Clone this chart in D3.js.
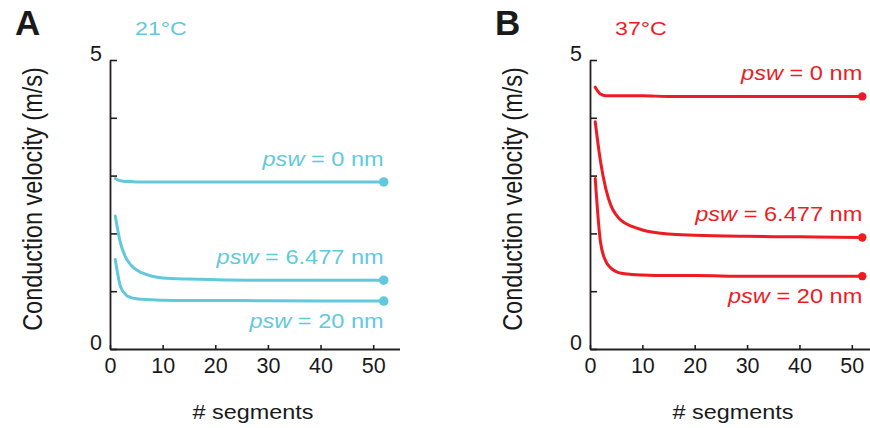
<!DOCTYPE html>
<html>
<head>
<meta charset="utf-8">
<script src="https://cdn.jsdelivr.net/npm/d3@7"></script>
<style>
  body { margin: 0; background: #fff; }
  svg { display: block; font-family: "Helvetica Neue", Helvetica, "Liberation Sans", Arial, sans-serif; }
</style>
</head>
<body>
<svg id="chart" width="870" height="428"></svg>
<script>
// segment counts where the velocity curves were read
const segments = [1, 2, 3, 4, 5, 6, 8, 10, 15, 20, 30, 40, 52]

// conduction velocity (m/s), 21 °C
const cold0 = [2.95, 2.91, 2.90, 2.90, 2.89, 2.89, 2.89, 2.89, 2.89, 2.89, 2.89, 2.89, 2.89]
const cold6 = [2.30, 1.83, 1.58, 1.45, 1.37, 1.32, 1.26, 1.23, 1.21, 1.20, 1.19, 1.19, 1.19]
const cold20 = [1.55, 1.08, 0.94, 0.89, 0.87, 0.86, 0.85, 0.845, 0.84, 0.84, 0.835, 0.83, 0.83]

// conduction velocity (m/s), 37 °C
const warm0 = [4.53, 4.41, 4.38, 4.38, 4.38, 4.38, 4.38, 4.38, 4.37, 4.37, 4.37, 4.37, 4.37]
const warm6 = [3.93, 3.25, 2.78, 2.48, 2.32, 2.22, 2.12, 2.06, 1.99, 1.97, 1.95, 1.94, 1.93]
const warm20 = [2.95, 1.85, 1.52, 1.40, 1.34, 1.31, 1.29, 1.28, 1.27, 1.27, 1.26, 1.26, 1.26]

const pswLabels = ['0', '6.477', '20']
const xTicks = [0, 10, 20, 30, 40, 50]
const yTicks = [0, 1, 2, 3, 4, 5]

const svg = d3.select('#chart')
const axisColor = '#231f20'

function drawPanel (opt) {
  const x = d3.scaleLinear().domain([0, 55]).range([opt.left, opt.left + opt.xLen])
  const y = d3.scaleLinear().domain([0, 5]).range([349, 60])
  const g = svg.append('g')

  // panel letter + temperature
  g.append('text').attr('x', opt.left - 95).attr('y', 35)
    .attr('font-size', 35).attr('font-weight', 'bold').attr('fill', '#1a1a1a')
    .text(opt.letter)
  g.append('text')
    .attr('transform', `translate(${opt.left + 25},35) scale(1.22,1)`)
    .attr('font-size', 19).attr('fill', opt.color)
    .text(opt.temp)

  // axes
  const xAxis = g.append('g').attr('transform', `translate(0,${y(0)})`)
    .call(d3.axisBottom(x).tickValues(xTicks).tickSizeInner(-4).tickSizeOuter(0).tickPadding(9))
  const yAxis = g.append('g').attr('transform', `translate(${x(0)},0)`)
    .call(d3.axisLeft(y).tickValues(yTicks).tickSizeInner(-7).tickSizeOuter(0).tickPadding(8)
      .tickFormat(d => (d === 0 || d === 5) ? d : ''))
  ;[xAxis, yAxis].forEach(a => {
    a.select('.domain').attr('stroke', axisColor).attr('stroke-width', 1.8)
    a.selectAll('.tick line').attr('stroke', axisColor).attr('stroke-width', 1.6)
    a.selectAll('.tick text').attr('font-size', 21.5).attr('fill', '#1a1a1a')
      .attr('font-family', null)
  })
  yAxis.selectAll('.tick text').attr('dy', 0)

  // axis titles
  g.append('text')
    .attr('transform', `translate(${opt.left - 68},199) scale(1.15,1) rotate(-90)`)
    .attr('text-anchor', 'middle').attr('font-size', 23.5).attr('fill', '#1a1a1a')
    .text('Conduction velocity (m/s)')
  g.append('text')
    .attr('transform', `translate(${opt.left + 143},419) scale(1.2,1)`)
    .attr('text-anchor', 'middle').attr('font-size', 19.5).attr('fill', '#1a1a1a')
    .text('# segments')

  const line = d3.line()
    .x(d => x(d[0]))
    .y(d => y(d[1]))
    .curve(d3.curveMonotoneX)

  opt.series.forEach((vals, i) => {
    const pts = segments.map((s, j) => [s, vals[j]])
    g.append('path').datum(pts)
      .attr('d', line)
      .attr('fill', 'none')
      .attr('stroke', opt.color)
      .attr('stroke-width', 3)
      .attr('stroke-linecap', 'round')
    const last = pts[pts.length - 1]
    g.append('circle')
      .attr('cx', x(last[0])).attr('cy', y(last[1]))
      .attr('r', opt.dotR).attr('fill', opt.color)

    const below = opt.below[i]
    const lbl = g.append('text')
      .attr('transform', `translate(${x(last[0])},${y(last[1]) + (below ? 27 : -16)}) scale(1.21,1)`)
      .attr('text-anchor', 'end').attr('font-size', 19.5).attr('fill', opt.color)
    lbl.append('tspan').attr('font-style', 'italic').text('psw')
    lbl.append('tspan').text(` = ${pswLabels[i]} nm`)
  })
}

drawPanel({
  letter: 'A', temp: '21°C', color: '#62c9dd', left: 110, xLen: 289.5, dotR: 4.8,
  series: [cold0, cold6, cold20], below: [false, false, true]
})
drawPanel({
  letter: 'B', temp: '37°C', color: '#ed1c24', left: 590, xLen: 288, dotR: 4.2,
  series: [warm0, warm6, warm20], below: [false, false, true]
})
</script>
</body>
</html>
